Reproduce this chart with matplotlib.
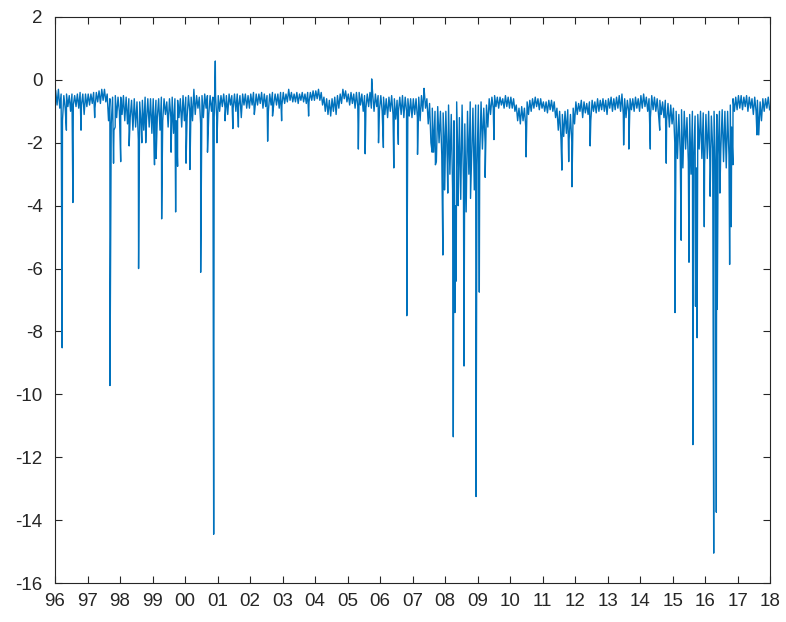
import numpy as np
import matplotlib
matplotlib.use("Agg")
import matplotlib.pyplot as plt

# years shown on the x axis
years = list(range(1996, 2018))

# monthly upper edge of the dense band, one row per year
band_top = [
    [-0.35, -0.3, -0.45, -0.5, -0.45, -0.5, -0.45, -0.5, -0.45, -0.4, -0.45, -0.45],
    [-0.45, -0.45, -0.4, -0.4, -0.35, -0.3, -0.3, -0.45, -0.6, -0.55, -0.5, -0.55],
    [-0.55, -0.5, -0.55, -0.6, -0.65, -0.6, -0.7, -0.7, -0.65, -0.55, -0.6, -0.6],
    [-0.6, -0.65, -0.6, -0.55, -0.6, -0.7, -0.6, -0.55, -0.6, -0.65, -0.6, -0.5],
    [-0.55, -0.5, -0.55, -0.3, -0.5, -0.55, -0.5, -0.45, -0.5, -0.5, -0.55, -0.5],
    [-0.5, -0.5, -0.45, -0.5, -0.45, -0.5, -0.45, -0.45, -0.5, -0.45, -0.45, -0.5],
    [-0.45, -0.4, -0.45, -0.45, -0.4, -0.45, -0.5, -0.45, -0.4, -0.45, -0.45, -0.4],
    [-0.4, -0.45, -0.3, -0.4, -0.45, -0.4, -0.45, -0.4, -0.45, -0.4, -0.4, -0.35],
    [-0.35, -0.3, -0.4, -0.55, -0.6, -0.65, -0.6, -0.55, -0.5, -0.45, -0.3, -0.35],
    [-0.45, -0.4, -0.45, -0.4, -0.4, -0.45, -0.5, -0.45, -0.4, -0.45, -0.45, -0.5],
    [-0.5, -0.55, -0.6, -0.55, -0.5, -0.6, -0.65, -0.55, -0.5, -0.55, -0.6, -0.6],
    [-0.6, -0.6, -0.55, -0.5, -0.3, -0.6, -0.75, -0.9, -1.0, -0.85, -1.0, -1.05],
    [-1.0, -0.8, -1.1, -1.3, -0.7, -1.2, -0.8, -1.4, -1.0, -0.7, -0.9, -0.8],
    [-0.8, -0.7, -0.9, -0.8, -0.6, -0.55, -0.5, -0.55, -0.55, -0.6, -0.5, -0.55],
    [-0.55, -0.6, -0.8, -0.9, -0.85, -0.9, -0.7, -0.65, -0.6, -0.55, -0.6, -0.6],
    [-0.7, -0.7, -0.65, -0.65, -0.7, -0.9, -1.0, -1.1, -1.0, -0.95, -1.1, -0.9],
    [-0.7, -0.75, -0.65, -0.7, -0.75, -0.7, -0.65, -0.7, -0.6, -0.65, -0.6, -0.65],
    [-0.6, -0.55, -0.6, -0.55, -0.5, -0.45, -0.6, -0.65, -0.6, -0.6, -0.55, -0.6],
    [-0.5, -0.45, -0.55, -0.6, -0.5, -0.55, -0.6, -0.65, -0.7, -0.65, -0.75, -0.8],
    [-0.9, -1.0, -1.1, -0.95, -1.0, -1.2, -1.1, -1.0, -1.15, -1.1, -1.0, -1.05],
    [-1.1, -1.0, -1.15, -1.0, -1.1, -1.0, -0.95, -1.0, -1.0, -0.8, -0.6, -0.55],
    [-0.5, -0.5, -0.55, -0.5, -0.55, -0.6, -0.55, -0.65, -0.7, -0.6, -0.6, -0.55],
]

# monthly lower edge of the dense band
band_bot = [
    [-0.8, -0.9, -1.3, -0.9, -0.85, -1.0, -0.8, -0.85, -0.9, -0.8, -1.1, -0.85],
    [-0.8, -0.75, -0.9, -0.7, -0.75, -0.65, -0.7, -1.3, -1.4, -1.6, -1.2, -1.0],
    [-1.1, -1.3, -1.4, -1.2, -1.6, -1.5, -1.9, -1.4, -1.6, -1.3, -1.5, -1.7],
    [-1.4, -1.2, -1.6, -1.3, -1.1, -1.5, -1.2, -1.7, -1.3, -1.2, -1.5, -1.3],
    [-1.2, -1.0, -1.3, -1.1, -0.9, -1.4, -1.2, -0.9, -1.1, -1.0, -1.2, -1.3],
    [-1.0, -0.85, -0.9, -1.1, -0.8, -0.9, -1.0, -0.85, -1.2, -0.8, -0.9, -0.9],
    [-0.8, -0.95, -0.8, -0.75, -0.9, -0.85, -1.0, -0.8, -0.75, -0.8, -0.9, -0.8],
    [-0.75, -0.7, -0.65, -0.7, -0.7, -0.75, -0.65, -0.7, -0.75, -0.7, -0.65, -0.65],
    [-0.6, -0.65, -0.8, -1.0, -1.1, -1.15, -1.0, -1.1, -0.9, -0.75, -0.6, -0.7],
    [-0.8, -0.75, -0.9, -0.85, -0.8, -1.0, -0.9, -0.85, -0.9, -1.0, -0.85, -0.95],
    [-1.0, -1.1, -1.2, -1.0, -1.1, -1.25, -1.0, -1.1, -1.2, -1.0, -1.15, -1.2],
    [-1.1, -1.2, -1.3, -1.0, -0.9, -1.4, -2.0, -2.3, -2.6, -2.0, -2.4, -2.2],
    [-2.5, -3.0, -3.5, -4.0, -2.8, -3.8, -3.2, -4.2, -3.0, -2.5, -3.5, -2.7],
    [-2.5, -2.2, -2.0, -1.5, -1.1, -0.9, -0.85, -0.9, -0.8, -0.9, -0.85, -0.9],
    [-0.9, -1.0, -1.3, -1.4, -1.3, -1.5, -1.1, -1.0, -0.9, -0.85, -0.95, -0.9],
    [-1.0, -1.05, -0.95, -1.0, -1.2, -1.6, -1.9, -1.8, -1.7, -1.9, -2.0, -1.4],
    [-1.1, -1.0, -1.2, -1.05, -1.1, -1.3, -1.0, -1.05, -1.0, -0.95, -1.0, -1.1],
    [-0.9, -1.0, -0.95, -0.9, -1.0, -1.1, -1.2, -1.0, -0.95, -1.0, -0.9, -1.0],
    [-0.9, -0.85, -1.0, -1.2, -0.95, -1.0, -1.1, -1.1, -1.2, -1.3, -1.5, -1.4],
    [-2.0, -2.5, -2.3, -2.8, -2.2, -2.6, -3.0, -2.4, -2.8, -2.2, -2.5, -2.7],
    [-2.5, -2.8, -2.2, -2.7, -2.4, -2.2, -2.6, -2.8, -2.4, -1.5, -1.0, -0.95],
    [-0.9, -0.95, -0.85, -1.0, -0.9, -1.1, -1.0, -1.75, -1.3, -1.0, -0.9, -0.95],
]

# single-day spikes: date (decimal year) and value
spike_dates = [
    1996.22, 1996.35, 1996.55, 1996.80, 1997.22, 1997.69, 1997.80, 1997.85,
    1998.02, 1998.28, 1998.57, 1998.67, 1998.79, 1999.06, 1999.11, 1999.28,
    1999.57, 1999.71, 1999.77, 2000.03, 2000.15, 2000.48, 2000.69, 2000.88,
    2000.93, 2000.98, 2001.23, 2001.47, 2001.64, 2002.13, 2002.54, 2002.69,
    2002.97, 2003.80, 2005.33, 2005.54, 2005.74, 2005.95, 2006.10, 2006.42,
    2006.56, 2006.82, 2007.15, 2007.35, 2007.60, 2007.70, 2007.93, 2007.98,
    2008.08, 2008.25, 2008.30, 2008.34, 2008.40, 2008.58, 2008.78, 2008.95,
    2009.05, 2009.23, 2009.50, 2010.49, 2011.59, 2011.80, 2011.90, 2012.46,
    2013.49, 2013.65, 2014.31, 2014.60, 2014.80, 2015.07, 2015.26, 2015.50,
    2015.62, 2015.70, 2015.75, 2015.97, 2016.15, 2016.26, 2016.34, 2016.37,
    2016.45, 2016.75, 2016.80, 2016.85, 2017.59,
]
spike_vals = [
    -8.52, -1.6, -3.9, -1.6, -1.2, -9.72, -2.65, -1.5,
    -2.6, -2.1, -6.0, -2.0, -2.0, -2.7, -2.5, -4.42,
    -2.3, -4.2, -2.75, -2.65, -2.85, -6.12, -2.3, -14.45,
    0.6, -2.0, -1.3, -1.55, -1.5, -1.1, -1.95, -1.15,
    -1.3, -1.15, -2.2, -2.35, 0.03, -2.0, -2.15, -2.8,
    -2.05, -7.5, -2.37, -0.27, -2.3, -2.7, -5.57, -3.5,
    -3.6, -11.35, -7.4, -6.4, -4.0, -9.1, -3.77, -13.25,
    -6.75, -3.1, -1.9, -2.45, -2.87, -2.6, -3.4, -2.1,
    -2.07, -2.2, -2.2, -1.6, -2.65, -7.4, -5.1, -5.8,
    -11.6, -7.2, -8.2, -4.67, -3.7, -15.05, -13.75, -7.3,
    -3.6, -5.87, -4.67, -2.7, -1.75,
]

# merge band edges and spikes into one time-ordered series
t = []
v = []
for yr, tops, bots in zip(years, band_top, band_bot):
    for m in range(12):
        t.append(yr + (m + 0.25) / 12)
        v.append(tops[m])
        t.append(yr + (m + 0.75) / 12)
        v.append(bots[m])
t += spike_dates
v += spike_vals
order = np.argsort(t)
t = np.array(t)[order]
v = np.array(v)[order]

plt.rcParams["font.family"] = ["Liberation Sans", "DejaVu Sans"]
plt.rcParams["axes.unicode_minus"] = False

fig = plt.figure(figsize=(7.86, 6.22), dpi=100)
ax = fig.add_axes([0.070, 0.0627, 0.910, 0.910])
ax.plot(t, v, color="#0072BD", linewidth=1.0)

ax.set_xlim(1996, 2018)
ax.set_ylim(-16, 2)
ax.set_xticks(range(1996, 2019))
ax.set_xticklabels(["%02d" % (y % 100) for y in range(1996, 2019)])
ax.set_yticks(range(-16, 3, 2))

grey = "#262626"
for side in ax.spines.values():
    side.set_color(grey)
    side.set_linewidth(0.8)
ax.tick_params(direction="in", top=True, right=True, length=5, width=0.8,
               colors=grey, labelsize=13.5)
ax.tick_params(axis="x", pad=7)
ax.tick_params(axis="y", pad=9)

fig.savefig("out.png", dpi=100)
